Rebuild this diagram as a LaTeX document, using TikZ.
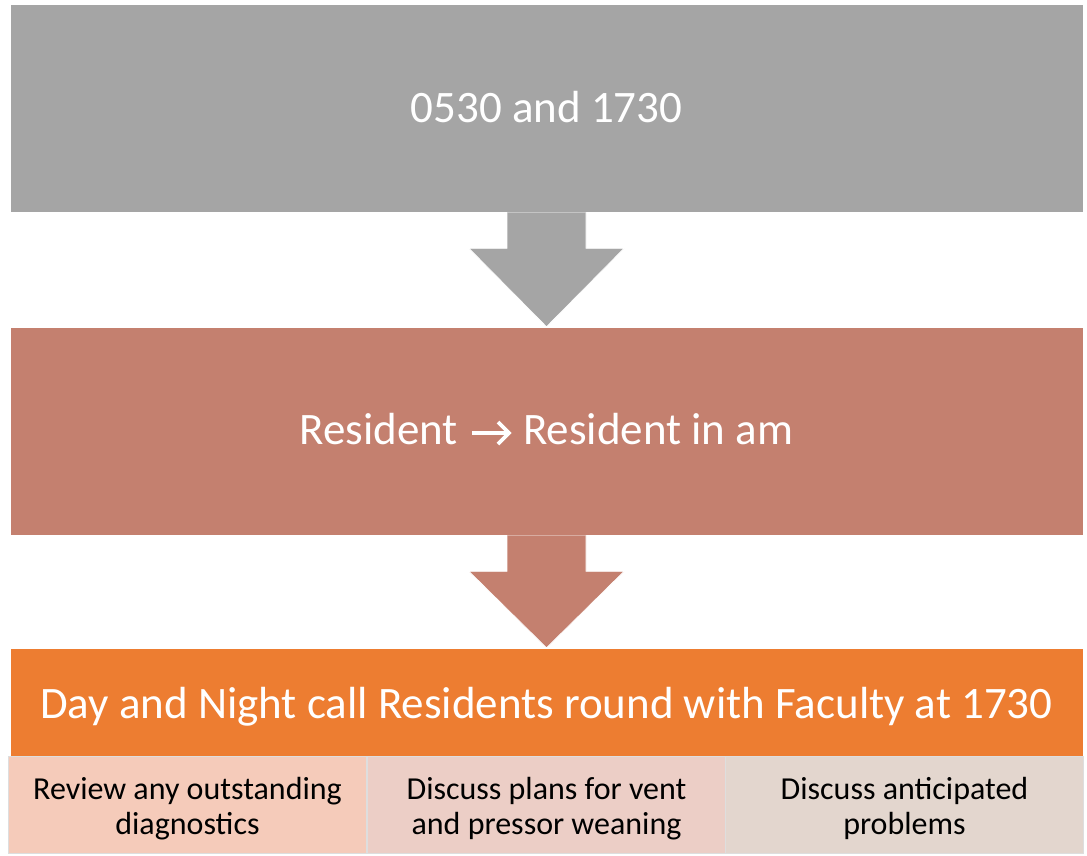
\documentclass[tikz,border=0pt]{standalone}
\usepackage{fontspec}
\setmainfont{Carlito}
\usetikzlibrary{calc}
\definecolor{grayc}{HTML}{A5A5A5}
\definecolor{brownc}{HTML}{C4806F}
\definecolor{orangec}{HTML}{ED7D31}
\definecolor{subA}{HTML}{F5CBBA}
\definecolor{subB}{HTML}{ECCEC6}
\definecolor{subC}{HTML}{E3D6CE}
\tikzset{
  bigbox/.style={draw=white, line width=0.6pt, minimum width=1073pt, minimum height=208pt,
    inner sep=0pt, text=white, font=\fontsize{45}{52}\selectfont},
  bigtext/.style={inner sep=0pt, text=white, font=\fontsize{45}{52}\selectfont},
  subbox/.style={draw=white!87!black, line width=1.5pt, minimum width=358pt, minimum height=97pt,
    inner sep=0pt},
  subtext/.style={inner sep=0pt, text=black, align=center, font=\fontsize{32}{35.5}\selectfont,
    yshift=-3.5pt},
  txtarrow/.style={white, line width=3.6pt, line cap=butt, line join=miter},
}
% block arrow from the bottom of one box down to the top of the next
\newcommand{\blockarrow}[3]{%
  \fill[#3, draw=white, line width=0.6pt]
    ($(#1.south)+(-39.5,0)$) -- ($(#1.south)+(-39.5,36)$) -- ($(#1.south)+(-77.5,36)$)
    -- (#2.north) -- ($(#1.south)+(77.5,36)$) -- ($(#1.south)+(39.5,36)$)
    -- ($(#1.south)+(39.5,0)$);
}
\begin{document}
\begin{tikzpicture}[x=1pt, y=-1pt]
  \useasboundingbox (0,0) rectangle (1087,855);
  \fill[white] (0,0) rectangle (1087,855);

  % main stages
  \node[bigbox, fill=grayc, text height=28pt, text depth=0pt] (times) at (546.5,108) {0530 and 1730};
  \node[bigbox, fill=brownc] (handoff) at (546.5,431) {};
  \node[bigbox, fill=orangec, minimum height=108pt, text height=32pt, text depth=0pt] (rounds) at (546.5,702)
    {Day and Night call Residents round with Faculty at 1730};

  % hand-off label: text, arrow, text
  \coordinate (arrL) at ($(handoff.center)+(-74.5,2)$);
  \coordinate (arrR) at ($(handoff.center)+(-37.5,2)$);
  \node[bigtext, anchor=base east] (from) at ($(handoff.center)+(-88.5,13)$) {Resident};
  \node[bigtext, anchor=base west] (to) at ($(handoff.center)+(-23.5,13)$) {Resident in am};
  \draw[txtarrow] (arrL) -- ($(arrR)+(-1,0)$);
  \draw[txtarrow] ($(arrR)+(-11,-11)$) -- (arrR) -- ($(arrR)+(-11,11)$);

  \blockarrow{times}{handoff}{grayc}
  \blockarrow{handoff}{rounds}{brownc}

  % round topics
  \node[subbox, fill=subA] (review) at (187.5,805) {};
  \node[subbox, fill=subB] (plans) at (546.5,805) {};
  \node[subbox, fill=subC] (problems) at (904.5,805) {};
  \node[subtext] (reviewtxt) at (review.center) {Review any outstanding\\diagnostics};
  \node[subtext] (planstxt) at (plans.center) {Discuss plans for vent\\and pressor weaning};
  \node[subtext] (problemstxt) at (problems.center) {Discuss anticipated\\problems};
\end{tikzpicture}
\end{document}
